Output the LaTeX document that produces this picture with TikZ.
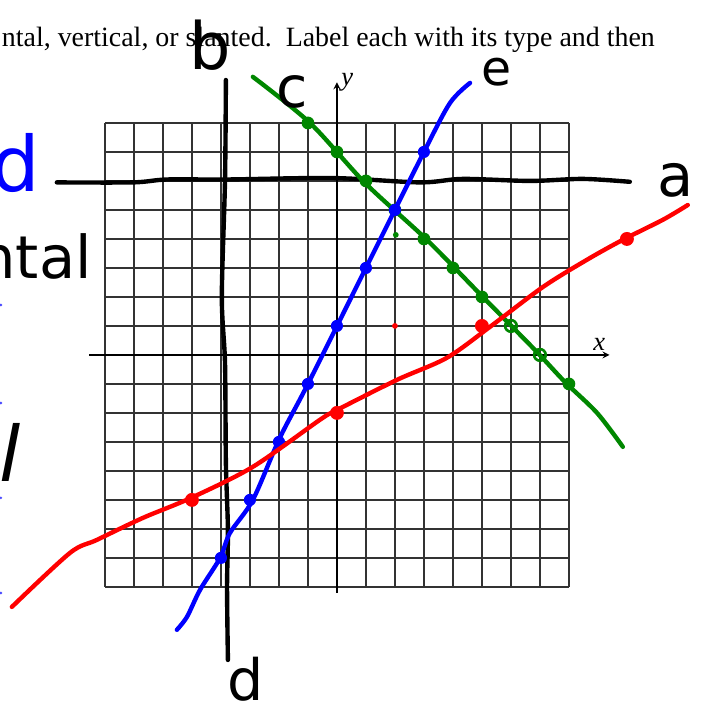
\documentclass[tikz,border=0pt]{standalone}
\usepackage{fontspec}
\setmainfont{Liberation Serif}
\newfontfamily\handfont{DejaVu Sans}
\definecolor{inkgreen}{RGB}{0,135,0}

\begin{document}
\begin{tikzpicture}[
    gridline/.style={black!80, line width=1.35pt},
    axis/.style={black, line width=2pt, -stealth},
    pen/.style={line width=4.3pt, line cap=round, line join=round},
    hand/.style={font=\handfont\fontsize{#1}{#1}\selectfont, inner sep=0pt},
  ]
  \useasboundingbox (-11.62,-12.28) rectangle (12.66,12.24);

  % Instructions cut off at the top
  \node[anchor=base east, inner sep=0pt, font=\fontsize{27.4}{32}\selectfont] (instr) at (10.97,10.62)
    {ntal, vertical, or slanted.\ \ Label each with its type and then};

  % Grid and axes
  \draw[gridline] (-8,-8) grid (8,8);
  \draw[axis] (-8.55,0) -- (9.4,0) node[above left, font=\fontsize{26}{26}\selectfont\itshape] (xlab) {x};
  \draw[axis] (0,-8.2) -- (0,9.4) node[right, font=\fontsize{26}{26}\selectfont\itshape] (ylab) {y};

  % Horizontal line a and vertical line b
  \draw[pen] plot[smooth] coordinates {(-9.66,5.95) (-7.03,5.95) (-5.86,6.05) (-3.79,6.05) (-0.14,6.1)
    (2.86,5.95) (4.34,6.07) (6.66,6.0) (8.48,6.07) (10.1,5.97)};
  \draw[pen] plot[smooth] coordinates {(-3.83,9.48) (-3.86,6.03) (-3.97,2.0) (-3.86,-0.28) (-3.83,-3.72)
    (-3.76,-6.03) (-3.79,-8.0) (-3.76,-10.52)};

  % Slanted line c
  \draw[pen, inkgreen] plot[smooth] coordinates {(-2.9,9.59) (-0.93,8.0) (0.97,5.93) (3.1,3.97) (5.03,2.0)
    (6.83,0.17) (7.86,-0.93) (8.97,-2.0) (9.86,-3.17)};
  \foreach \u/\v in {-1/8, 0/7, 1/6, 2/5, 3/4, 4/3, 5/2, 8/-1}
    \fill[inkgreen] (\u,\v) circle (0.22);
  \foreach \u/\v in {6/1, 7/0}
    \draw[inkgreen, line width=2.6pt] (\u,\v) circle (0.2);
  \fill[inkgreen] (2.03,4.14) circle (0.1);

  % Slanted line e
  \draw[pen, blue] plot[smooth] coordinates {(4.59,9.38) (3.9,8.69) (3,7) (1,3) (-1,-1) (-1.97,-2.86)
    (-2.9,-5.0) (-3.69,-6.14) (-4.03,-7.0) (-4.72,-8.1) (-5.17,-9.03) (-5.52,-9.48)};
  \foreach \u/\v in {3/7, 2/5, 1/3, 0/1, -1/-1, -2/-3, -3/-5, -4/-7}
    \fill[blue] (\u,\v) circle (0.21);

  % Slanted red line
  \draw[pen, red] plot[smooth] coordinates {(-11.21,-8.69) (-9.21,-6.83) (-8.28,-6.38) (-6.69,-5.62)
    (-5.03,-4.93) (-2.9,-3.86) (-0.59,-2.24) (0,-1.9) (2.07,-0.86) (3.79,-0.10) (5.28,0.97) (7.1,2.34)
    (8.62,3.28) (9.86,3.97) (11.24,4.66) (12.1,5.17)};
  \foreach \u/\v in {10/4, 5/1, 0/-2, -5/-5}
    \fill[red] (\u,\v) circle (0.24);
  \fill[red] (2,1) circle (0.1);

  % Handwritten labels
  \node[hand=58] (la) at (11.69,6.03) {a};
  \node[hand=64] (lb) at (-4.38,10.69) {b};
  \node[hand=56] (lc) at (-1.55,9.07) {c};
  \node[hand=56] (ld) at (-3.14,-11.2) {d};
  \node[hand=48] (le) at (5.52,9.75) {e};

  % Handwriting left at the margin
  \node[hand=75, blue, anchor=east] (marg1) at (-10.24,6.62) {d};
  \node[hand=58, anchor=base east] (marg2) at (-8.45,2.62) {ntal};
  \node[hand=75, font=\handfont\itshape\fontsize{75}{75}\selectfont] (marg3) at (-11.28,-3.38) {l};
  \foreach \v in {1.72, -1.66, -4.93, -8.21}
    \fill[blue!70] (-11.59,\v) circle (0.05);
\end{tikzpicture}
\end{document}
